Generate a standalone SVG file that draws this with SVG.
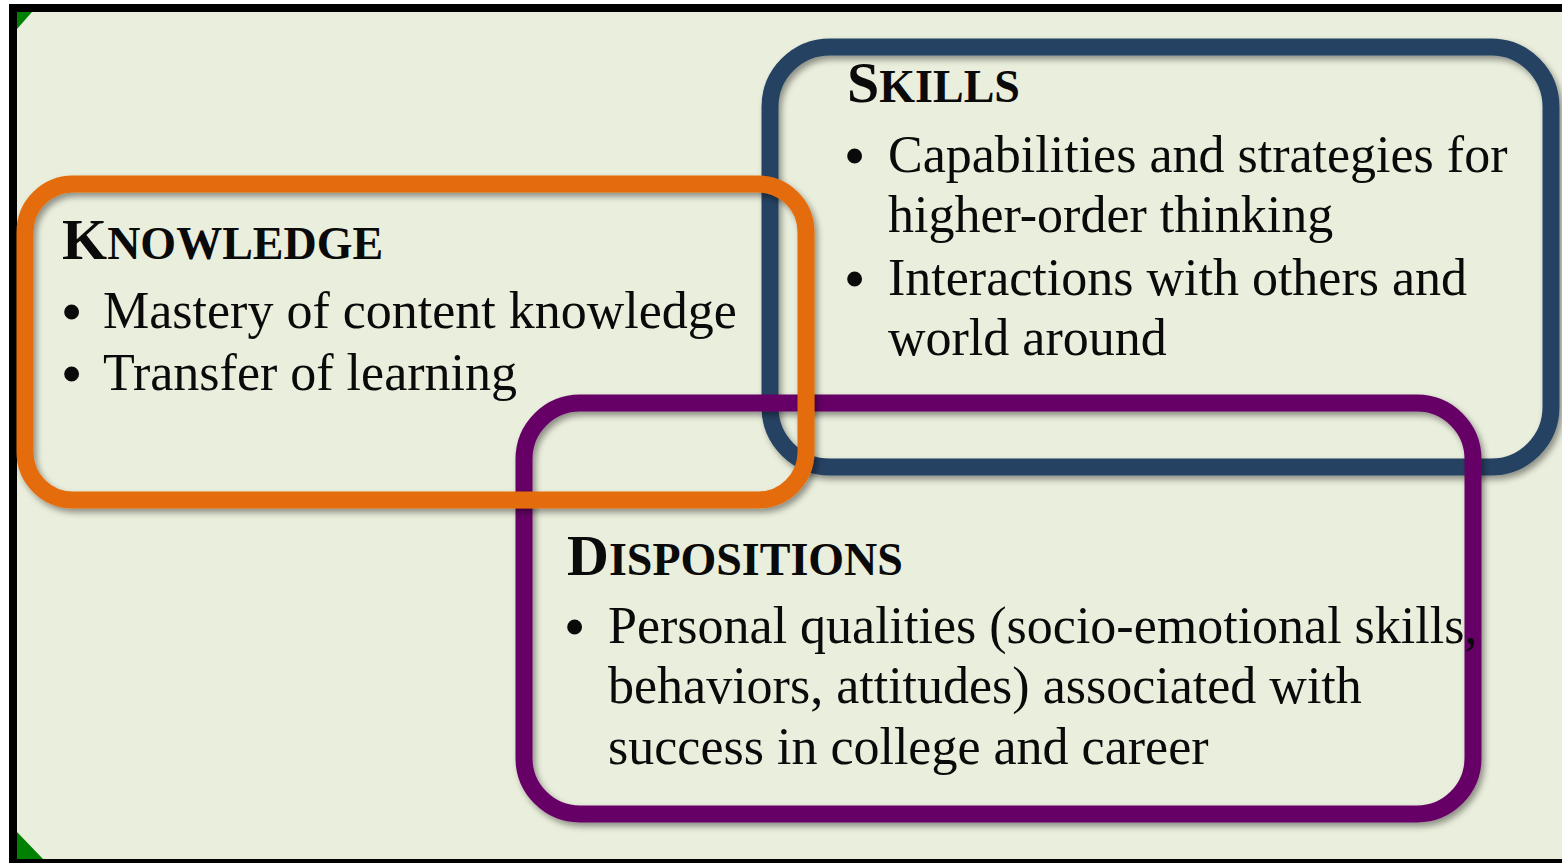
<svg xmlns="http://www.w3.org/2000/svg" width="1562" height="863" viewBox="0 0 1562 863">
  <defs>
    <filter id="soft" x="-5%" y="-5%" width="110%" height="115%">
      <feDropShadow dx="3" dy="4" stdDeviation="3" flood-color="#000" flood-opacity="0.4"/>
    </filter>
  </defs>
  <style>
    .box { fill: none; stroke-width: 17; filter: url(#soft); }
    .knowledge { stroke: #e46c0a; }
    .skills { stroke: #264264; }
    .dispositions { stroke: #660066; }
    text { font-family: "Liberation Serif", "Times New Roman", serif; fill: #0a0a0a; }
    .head { font-weight: bold; font-size: 46px; }
    .cap { font-size: 58px; }
    .body { font-size: 52px; }
    .dot { font-size: 55px; font-weight: bold; }
  </style>

  <!-- slide frame -->
  <rect x="0" y="0" width="1562" height="863" fill="#ffffff"/>
  <rect x="9" y="4" width="1570" height="870" fill="#000000"/>
  <rect x="17" y="12" width="1560" height="847" fill="#008000"/>
  <path d="M32 12 H1577 V859 H43 L17 832 V29 Z" fill="#eaeedc"/>

  <!-- Skills -->
  <g id="skills">
    <rect class="box skills" x="770" y="47" width="781" height="420" rx="60" ry="60"/>
  </g>

  <!-- Dispositions -->
  <g id="dispositions">
    <rect class="box dispositions" x="524" y="403" width="949" height="411" rx="56" ry="56"/>
  </g>

  <!-- Knowledge -->
  <g id="knowledge">
    <rect class="box knowledge" x="25" y="184" width="781" height="316" rx="48" ry="48"/>
  </g>

  <!-- labels -->
  <g id="knowledge-text">
    <text class="head" x="62" y="259"><tspan class="cap">K</tspan>NOWLEDGE</text>
    <text class="dot" x="62" y="330">•</text>
    <text class="body" x="103" y="328">Mastery of content knowledge</text>
    <text class="dot" x="62" y="392">•</text>
    <text class="body" x="103" y="390">Transfer of learning</text>
  </g>

  <g id="skills-text">
    <text class="head" x="847" y="102"><tspan class="cap">S</tspan>KILLS</text>
    <text class="dot" x="845" y="174">•</text>
    <text class="body" x="888" y="172">Capabilities and strategies for</text>
    <text class="body" x="888" y="232">higher-order thinking</text>
    <text class="dot" x="845" y="297">•</text>
    <text class="body" x="888" y="295">Interactions with others and</text>
    <text class="body" x="888" y="355">world around</text>
  </g>

  <g id="dispositions-text">
    <text class="head" x="567" y="575"><tspan class="cap">D</tspan>ISPOSITIONS</text>
    <text class="dot" x="565" y="645">•</text>
    <text class="body" x="608" y="643">Personal qualities (socio-emotional skills,</text>
    <text class="body" x="608" y="703">behaviors, attitudes) associated with</text>
    <text class="body" x="608" y="764">success in college and career</text>
  </g>
</svg>
